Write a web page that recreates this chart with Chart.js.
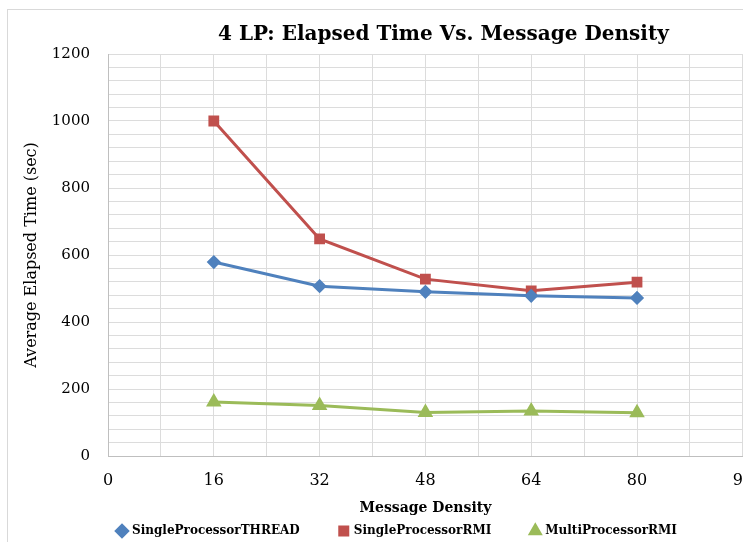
<!DOCTYPE html>
<html>
<head>
<meta charset="utf-8">
<script src="https://cdn.jsdelivr.net/npm/chart.js@4.4.0/dist/chart.umd.min.js"></script>
<style>
  html, body { margin: 0; padding: 0; background: #fff; overflow: hidden; }
  #frame {
    position: absolute; left: 7px; top: 9px;
    width: 760px; height: 537px;
    border-left: 1px solid #d9d9d9; border-top: 1px solid #d9d9d9;
  }
</style>
</head>
<body>
<div id="frame"><canvas id="lpChart"></canvas></div>
<script>
// -------------------------------
// DATA
// -------------------------------
const densities = [16, 32, 48, 64, 80];
const threadTimes = [579, 507, 490, 478, 472];
const rmiTimes = [1000, 648, 528, 493, 519];
const multiRmiTimes = [161, 151, 130, 134, 129];
const seriesNames = ["SingleProcessorTHREAD", "SingleProcessorRMI", "MultiProcessorRMI"];

const SERIF = "'DejaVu Serif', 'Liberation Serif', serif";

function toPoints(values) {
    return densities.map((d, i) => ({ x: d, y: values[i] }));
}

// nudge title / legend sideways like the Excel original
const boxNudge = {
    id: "boxNudge",
    afterLayout(chart) {
        chart.titleBlock.left += 18;
        chart.titleBlock.right += 18;
        chart.legend.left += 70;
        chart.legend.right += 70;
    }
};

const ctx = document.getElementById("lpChart").getContext("2d");

const chart = new Chart(ctx, {
    type: "line",
    data: {
        datasets: [
            {
                label: seriesNames[0],
                data: toPoints(threadTimes),
                borderColor: "#4f81bd",
                backgroundColor: "#4f81bd",
                borderWidth: 3,
                pointStyle: "rectRot",
                pointRadius: 5,
                tension: 0
            },
            {
                label: seriesNames[1],
                data: toPoints(rmiTimes),
                borderColor: "#c0504d",
                backgroundColor: "#c0504d",
                borderWidth: 3,
                pointStyle: "rect",
                pointRadius: 5.5,
                tension: 0
            },
            {
                label: seriesNames[2],
                data: toPoints(multiRmiTimes),
                borderColor: "#9bbb59",
                backgroundColor: "#9bbb59",
                borderWidth: 3,
                pointStyle: "triangle",
                pointRadius: 6,
                tension: 0
            }
        ]
    },
    options: {
        responsive: true,
        maintainAspectRatio: false,
        animation: false,
        layout: { padding: { left: 0, right: 21, top: 0, bottom: 0 } },
        plugins: {
            title: {
                display: true,
                text: "4 LP: Elapsed Time Vs. Message Density",
                color: "#000",
                fullSize: false,
                font: { family: SERIF, size: 20, weight: "bold" },
                padding: { top: 12.8, bottom: 7.2 }
            },
            legend: {
                position: "bottom",
                fullSize: true,
                align: "start",
                labels: {
                    usePointStyle: true,
                    boxWidth: 8,
                    boxHeight: 8,
                    color: "#000",
                    padding: 40,
                    font: { family: SERIF, size: 12, weight: "bold" }
                }
            },
            tooltip: { enabled: false }
        },
        scales: {
            x: {
                type: "linear",
                min: 0,
                max: 96,
                border: { color: "#bfbfbf" },
                grid: { color: "#dcdcdc", drawTicks: false },
                ticks: {
                    stepSize: 8,
                    autoSkip: false,
                    maxRotation: 0,
                    padding: 15,
                    color: "#000",
                    font: { family: SERIF, size: 16 },
                    callback: v => (v % 16 === 0 ? String(v) : "")
                },
                title: {
                    display: true,
                    text: "Message Density",
                    color: "#000",
                    font: { family: SERIF, size: 14, weight: "bold" },
                    padding: { top: 0, bottom: -31.4 }
                },
                afterFit: scale => { scale.height = 29; }
            },
            y: {
                min: 0,
                max: 1200,
                border: { color: "#bfbfbf" },
                grid: { color: "#dcdcdc", drawTicks: false },
                ticks: {
                    stepSize: 40,
                    autoSkip: false,
                    padding: 18,
                    color: "#000",
                    font: { family: SERIF, size: 15 },
                    callback: v => (v % 200 === 0 ? String(v) : "")
                },
                title: {
                    display: true,
                    text: "Average Elapsed Time (sec)",
                    color: "#000",
                    font: { family: SERIF, size: 16 },
                    padding: { top: 14.4, bottom: 0 }
                },
                afterFit: scale => { scale.width = 100; }
            }
        }
    },
    plugins: [boxNudge]
});
</script>
</body>
</html>
